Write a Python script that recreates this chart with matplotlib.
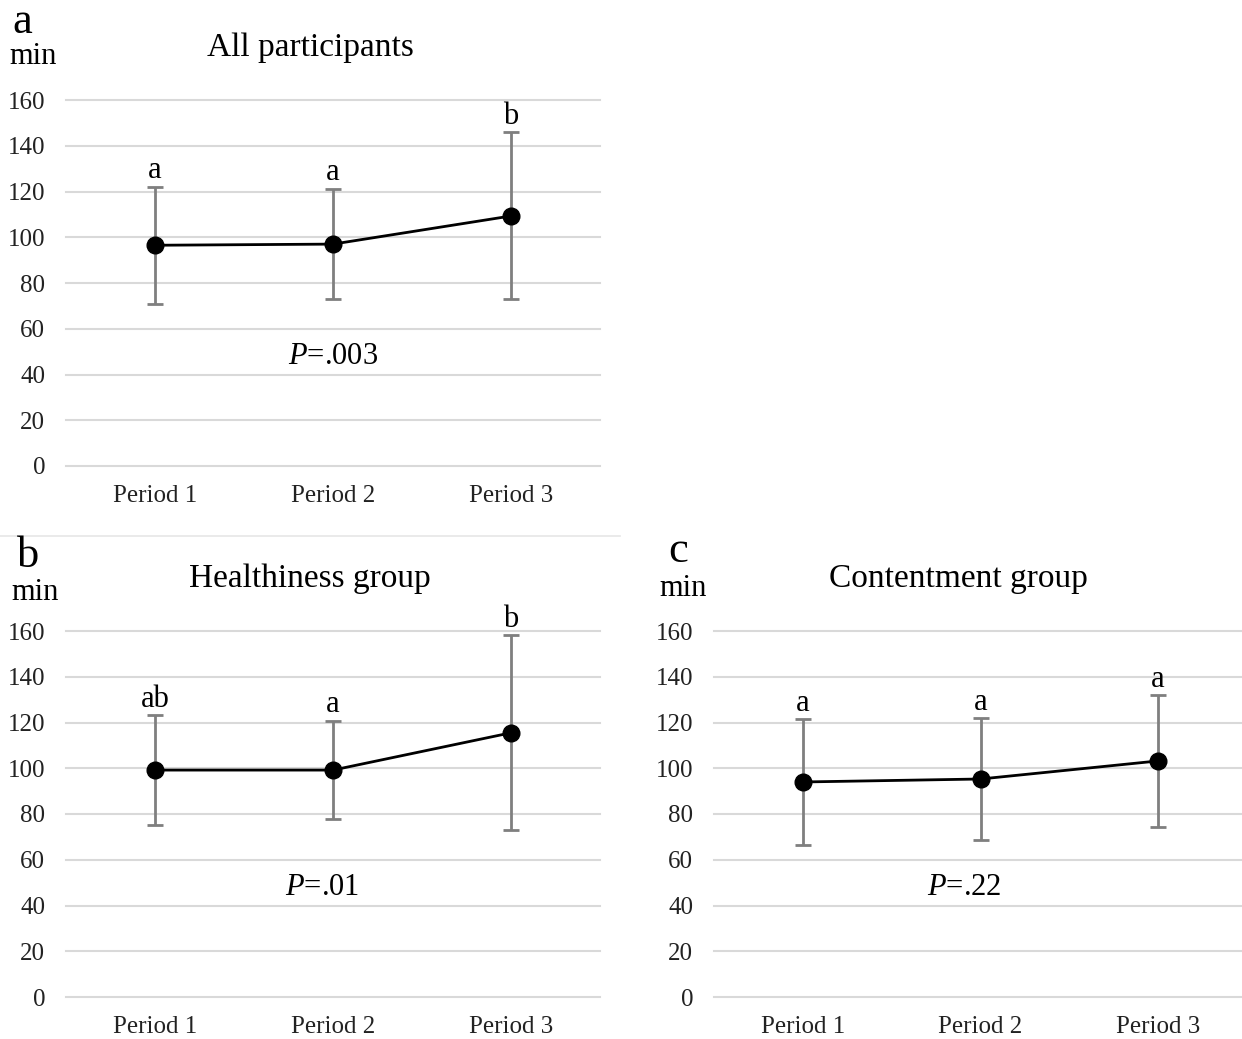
import numpy as np
import matplotlib.pyplot as plt

plt.rcParams['font.family'] = ['Liberation Serif', 'DejaVu Serif']
plt.rcParams['mathtext.fontset'] = 'custom'
plt.rcParams['mathtext.rm'] = 'Liberation Serif'
plt.rcParams['mathtext.it'] = 'Liberation Serif:italic'

periods = ['Period 1', 'Period 2', 'Period 3']

# mean and SD (min)
all_mean = [96.5, 97.0, 109.3]
all_sd = [25.6, 24.2, 36.5]
all_sig = ['a', 'a', 'b']

health_mean = [99.2, 99.2, 115.5]
health_sd = [24.0, 21.6, 42.6]
health_sig = ['ab', 'a', 'b']

content_mean = [94.0, 95.3, 103.2]
content_sd = [27.5, 26.7, 28.8]
content_sig = ['a', 'a', 'a']

W, H = 1242, 1039
fig = plt.figure(figsize=(W / 100, H / 100), dpi=100)


def px_axes(left, right, top, bottom):
    return fig.add_axes([left / W, 1 - bottom / H, (right - left) / W, (bottom - top) / H])


def panel(ax, mean, sd, sig, ptext, px):
    x = np.arange(len(periods))
    for y in range(0, 161, 20):
        ax.axhline(y, color='#d9d9d9', lw=1.5, zorder=0, clip_on=False)
    ax.errorbar(x, mean, yerr=sd, fmt='none', ecolor='#7f7f7f', elinewidth=2,
                capsize=6, capthick=2, zorder=2)
    ax.plot(x, mean, color='black', lw=2, marker='o', markersize=12, zorder=3)
    for xi, m, s, lab in zip(x, mean, sd, sig):
        ax.annotate(lab, (xi, m + s), xytext=(0, 6), textcoords='offset points',
                    ha='center', va='baseline', fontsize=22)
    ax.text(px, 48, ptext, ha='center', va='center', fontsize=22)
    ax.set_xlim(-0.5, 2.5)
    ax.set_ylim(0, 160)
    ax.set_yticks(range(0, 161, 20))
    ax.set_xticks(x)
    ax.set_xticklabels(periods)
    ax.tick_params(length=0, labelsize=18, colors='#222222')
    ax.tick_params(axis='y', pad=15)
    ax.tick_params(axis='x', pad=14)
    for sp in ax.spines.values():
        sp.set_visible(False)


ax_a = px_axes(66, 600, 100, 466)
ax_b = px_axes(66, 600, 631, 997)
ax_c = px_axes(714, 1247, 631, 997)

panel(ax_a, all_mean, all_sd, all_sig, r'$\it{P}$=.003', 1.0)
panel(ax_b, health_mean, health_sd, health_sig, r'$\it{P}$=.01', 0.94)
panel(ax_c, content_mean, content_sd, content_sig, r'$\it{P}$=.22', 0.91)


def ftext(x, y, s, **kw):
    fig.text(x / W, 1 - y / H, s, ha='center', va='center', **kw)


ftext(310, 48, 'All participants', fontsize=24)
ftext(310, 579, 'Healthiness group', fontsize=24)
ftext(958, 579, 'Contentment group', fontsize=24)

ftext(22, 22, 'a', fontsize=32)
ftext(28, 556, 'b', fontsize=32)
ftext(678, 551, 'c', fontsize=32)

ftext(33, 57, 'min', fontsize=22)
ftext(35, 592, 'min', fontsize=22)
ftext(683, 588, 'min', fontsize=22)

fig.add_artist(plt.Line2D([0, 620 / W], [1 - 536 / H, 1 - 536 / H],
                          color='#e6e6e6', lw=1.2))

fig.savefig('out.png', dpi=100)
